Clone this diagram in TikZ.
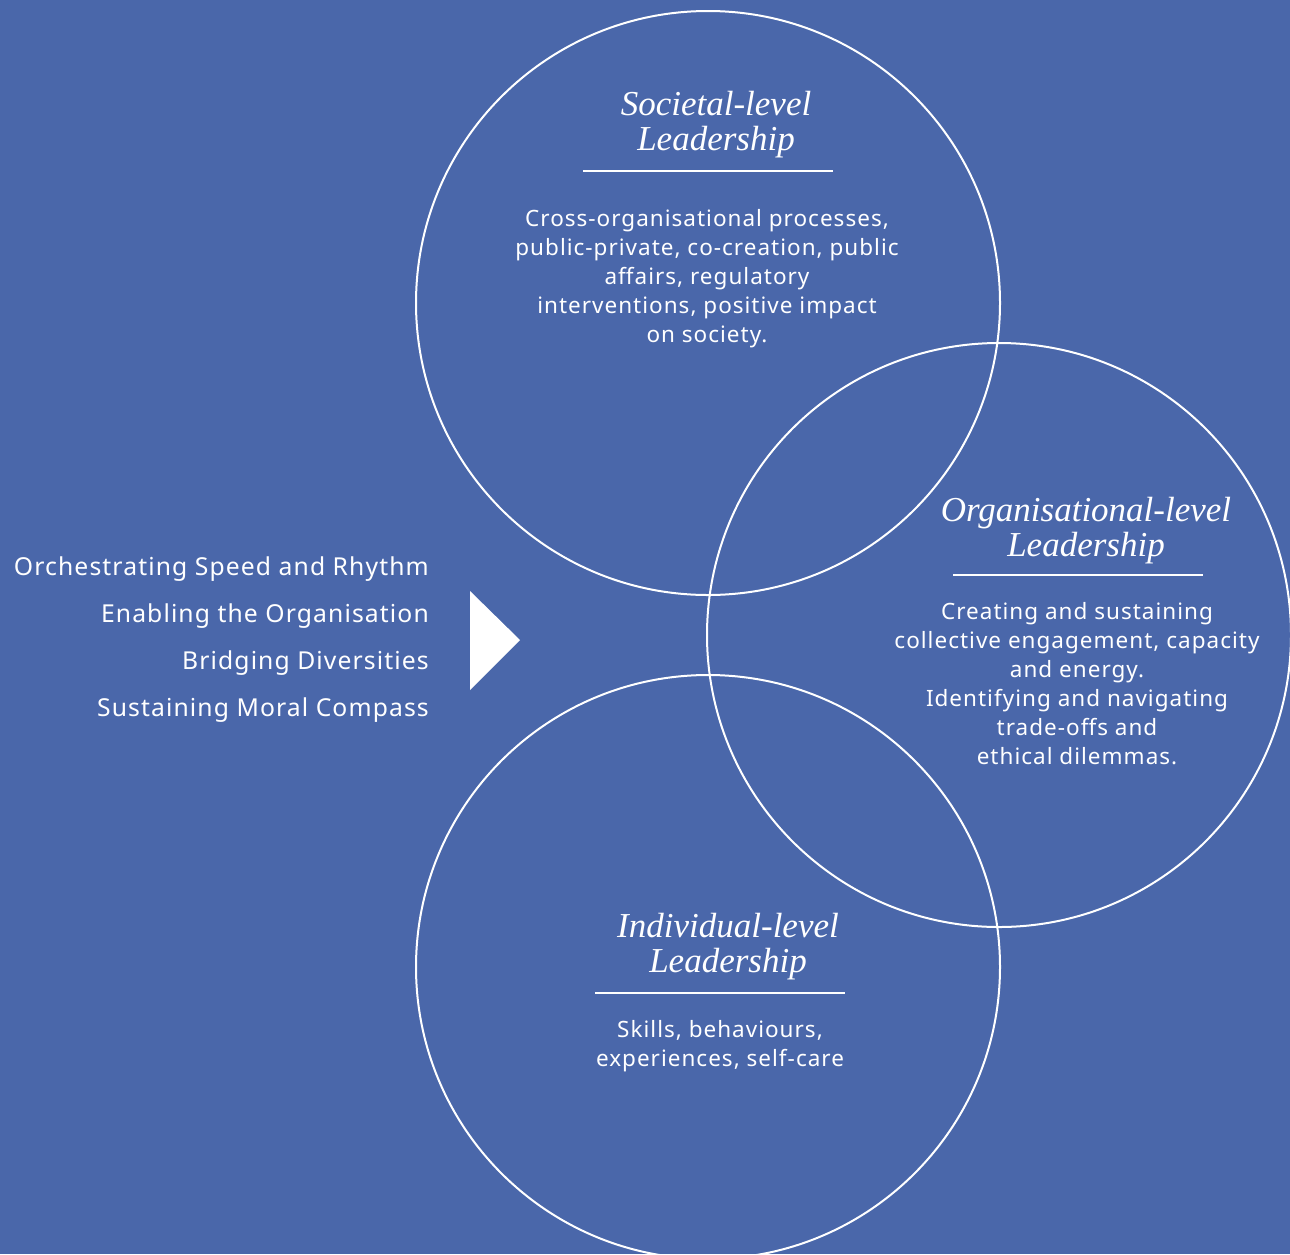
\documentclass[tikz,border=0pt]{standalone}
\usepackage{fontspec}
\setmainfont[LetterSpace=4.5]{Noto Sans}
\newfontfamily\titlefont{Liberation Serif}
\definecolor{bg}{HTML}{4A67AA}
\begin{document}
\begin{tikzpicture}[x=1pt,y=-1pt,
  ring/.style={circle,draw=white,line width=2pt,minimum size=584pt,inner sep=0pt},
  ttl/.style={text=white,align=center,font=\titlefont\itshape\fontsize{35}{35}\selectfont,inner sep=0pt},
  body/.style={text=white,align=center,font=\fontsize{22.5}{29}\selectfont,inner sep=0pt},
  lst/.style={text=white,align=right,font=\fontsize{24.7}{47}\selectfont,inner sep=0pt},
  rulel/.style={draw=white,line width=2.5pt}]
\fill[bg] (0,0) rectangle (1290,1254);
\useasboundingbox (0,0) rectangle (1290,1254);
\node[ring] (soc) at (708,303) {};
\node[ring] (org) at (999,635) {};
\node[ring] (ind) at (708,967) {};
% Societal
\node[ttl] (soct) at (716,125) {Societal-level\\Leadership};
\draw[rulel] (583,171) -- (833,171);
\node[body] (socb) at (707,279) {Cross-organisational processes,\\public-private, co-creation, public\\affairs, regulatory\\interventions, positive impact\\on society.};
% Organisational
\node[ttl] (orgt) at (1086,531) {Organisational-level\\Leadership};
\draw[rulel] (953,575) -- (1203,575);
\node[body] (orgb) at (1077,683.5) {Creating and sustaining\\collective engagement, capacity\\and energy.\\Identifying and navigating\\trade-offs and\\ethical dilemmas.};
% Individual
\node[ttl] (indt) at (728,946.5) {Individual-level\\Leadership};
\draw[rulel] (595,993) -- (845,993);
\node[body] (indb) at (720,1046.5) {Skills, behaviours,\\experiences, self-care};
% Left list
\node[lst,anchor=east] (list) at (429,639.5) {Orchestrating Speed and Rhythm\\Enabling the Organisation\\Bridging Diversities\\Sustaining Moral Compass};
\fill[white] (470,591) -- (520,640) -- (470,690) -- cycle;
\end{tikzpicture}
\end{document}
